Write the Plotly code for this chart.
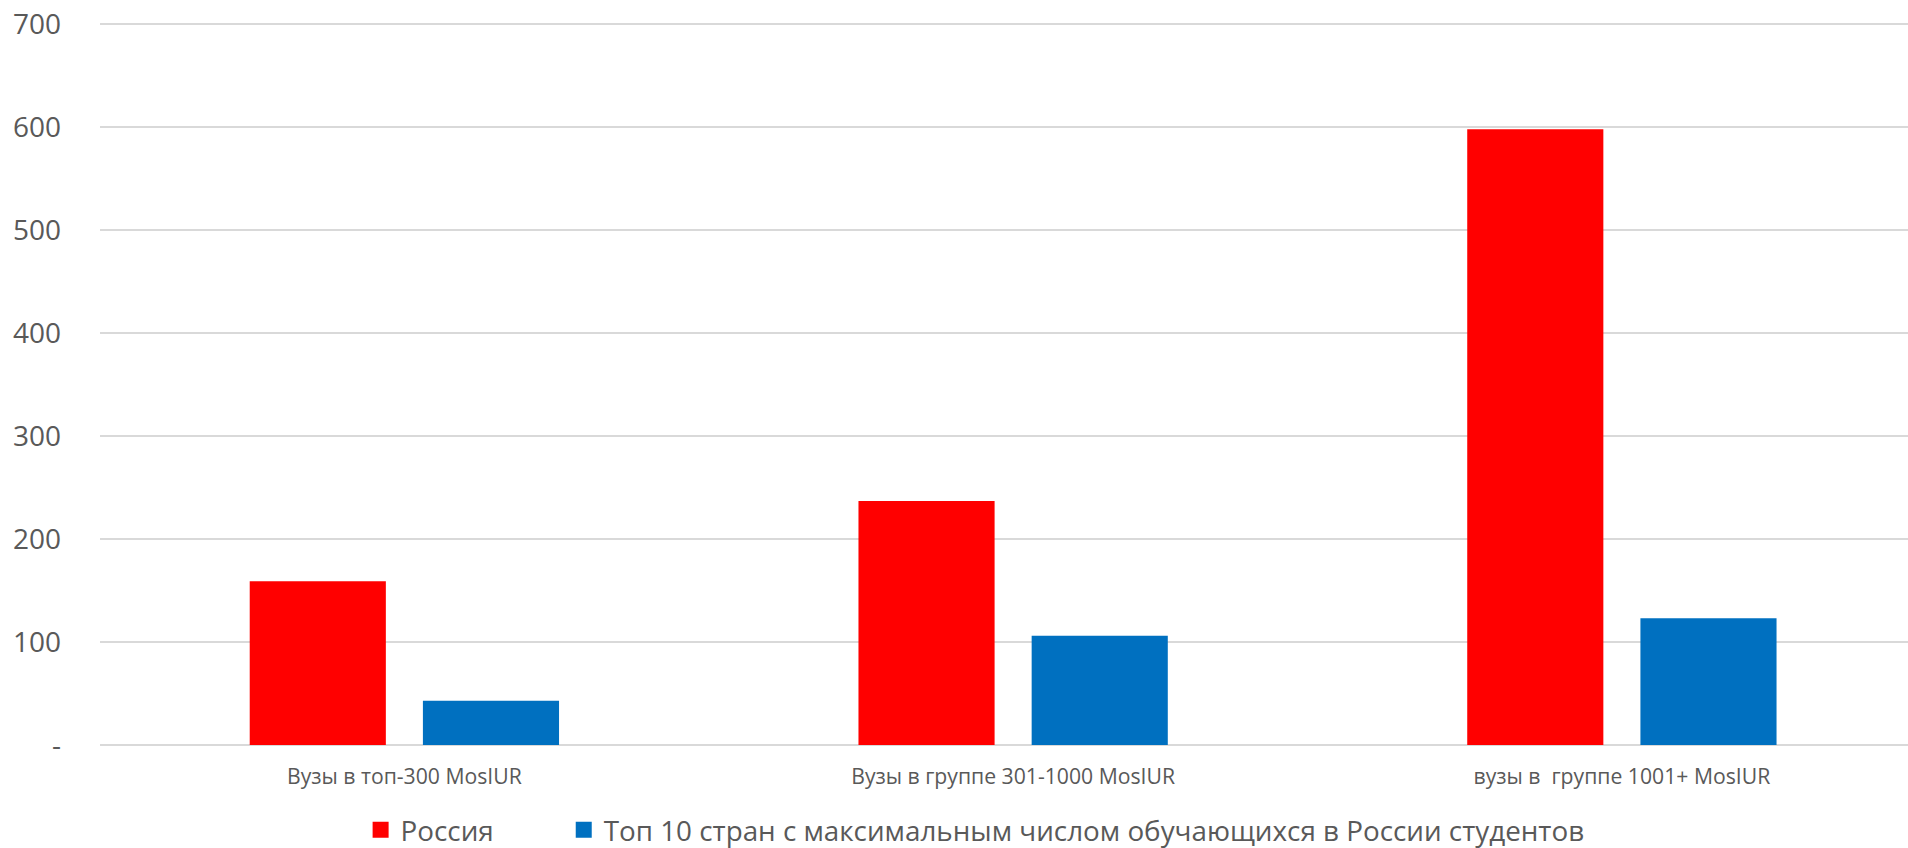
import plotly.graph_objects as go

categories = ["Вузы в топ-300 MosIUR", "Вузы в группе 301-1000 MosIUR", "вузы в  группе 1001+ MosIUR"]
russia = [159, 237, 598]
top10 = [43, 106, 123]
series_names = ["Россия", "Топ 10 стран с максимальным числом обучающихся в России студентов"]
colors = ["#ff0000", "#0070c0"]
tick_vals = [0, 100, 200, 300, 400, 500, 600, 700]
tick_text = ["-", "100", "200", "300", "400", "500", "600", "700"]

FONT = "Open Sans"
GREY = "#595959"
PAD = "\u00a0" * 9

fig = go.Figure()
for vals, col in zip([russia, top10], colors):
    fig.add_trace(go.Bar(x=categories, y=vals, showlegend=False,
                         marker=dict(color=col, line=dict(width=0))))
# legend entries with larger square swatches
for name, col in zip([series_names[0] + PAD, series_names[1]], colors):
    fig.add_trace(go.Scatter(x=[None], y=[None], mode="markers", name=name,
                             marker=dict(symbol="square", size=17, color=col)))

fig.update_layout(
    width=1908, height=848,
    margin=dict(l=100, r=0, t=19, b=103, autoexpand=False),
    paper_bgcolor="white", plot_bgcolor="white",
    barmode="group", bargap=0.431, bargroupgap=0.214,
    font=dict(family=FONT, color=GREY),
    showlegend=True,
    legend=dict(orientation="h", xref="container", yref="container",
                x=0.189, xanchor="left", y=0.021, yanchor="middle",
                font=dict(size=27.8, color=GREY, family=FONT),
                itemsizing="trace", tracegroupgap=0),
    hovermode=False,
)
fig.update_xaxes(range=[-0.5, 2.47], showgrid=False, showline=False, ticks="",
                 tickfont=dict(size=21.2, color=GREY), ticklabelstandoff=17, automargin=False)
fig.update_yaxes(range=[0, 705], tickvals=tick_vals, ticktext=tick_text,
                 showgrid=True, gridcolor="#d9d9d9", gridwidth=1.5,
                 zeroline=True, zerolinecolor="#d9d9d9", zerolinewidth=1.5,
                 showline=False, ticks="", tickfont=dict(size=28, color=GREY),
                 ticklabelstandoff=38, automargin=False)

fig.write_html("out.html", config={"displayModeBar": False},
               post_script="document.body.style.margin='0';document.body.style.overflow='hidden';")
